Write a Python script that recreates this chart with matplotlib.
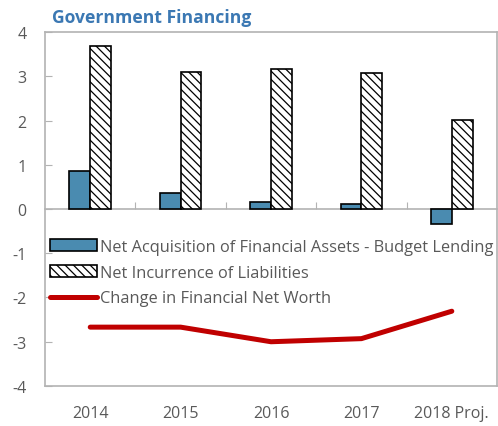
import numpy as np
import matplotlib
matplotlib.use('Agg')
import matplotlib.pyplot as plt

plt.rcParams['font.family'] = ['Open Sans', 'DejaVu Sans']
plt.rcParams['hatch.linewidth'] = 0.9
plt.rcParams['axes.unicode_minus'] = False

# Government financing, percent of GDP
years = ['2014', '2015', '2016', '2017', '2018 Proj.']
budget_lending = [0.85, 0.36, 0.16, 0.12, -0.34]
liabilities = [3.69, 3.10, 3.17, 3.07, 2.01]
net_worth = [-2.67, -2.67, -3.00, -2.93, -2.31]

blue = '#4a8bb0'
red = '#c00000'
gray = '#b3b3b3'
text_gray = '#595959'

fig = plt.figure(figsize=(4.98, 4.27), dpi=100)
ax = fig.add_axes([0.0904, 0.0937, 0.9076, 0.829])

x = np.arange(len(years))
w = 0.23
b1 = ax.bar(x - w / 2, budget_lending, width=w, color=blue, edgecolor='black', linewidth=1.2,
            label='Net Acquisition of Financial Assets - Budget Lending', zorder=2)
b2 = ax.bar(x + w / 2, liabilities, width=w, color='white', edgecolor='black', linewidth=1.2,
            hatch='\\\\\\\\', label='Net Incurrence of Liabilities', zorder=2)
l1, = ax.plot(x, net_worth, color=red, linewidth=3.6, solid_capstyle='round',
              label='Change in Financial Net Worth', zorder=3)

ax.set_xlim(-0.5, len(years) - 0.5)
ax.set_ylim(-4, 4)
ax.set_yticks(range(-4, 5))
ax.set_xticks(x)
ax.set_xticklabels(years)
ax.tick_params(axis='y', direction='in', length=5, color=gray, labelsize=11.5,
               labelcolor=text_gray, pad=13.5)
ax.tick_params(axis='x', length=0, labelsize=11.5, labelcolor=text_gray, pad=14)
for s in ax.spines.values():
    s.set_color(gray)
    s.set_linewidth(1.2)

# zero line with category separators
ax0 = ax.twiny()
ax0.set_xlim(ax.get_xlim())
ax0.spines['bottom'].set_position(('data', 0))
ax0.spines['bottom'].set_color(gray)
ax0.spines['bottom'].set_linewidth(1.2)
for side in ['top', 'left', 'right']:
    ax0.spines[side].set_visible(False)
ax0.xaxis.set_ticks_position('bottom')
ax0.set_xticks(np.arange(0.5, len(years) - 0.5, 1.0))
ax0.tick_params(axis='x', direction='in', length=5, color=gray, labelbottom=False, labeltop=False)
ax0.set_zorder(1)
ax.set_zorder(2)
ax.patch.set_visible(False)

leg = ax.legend(handles=[b1, b2, l1], loc='upper left', bbox_to_anchor=(0.0, 0.43),
                frameon=False, fontsize=11.8, handlelength=2.87, handleheight=0.7,
                handletextpad=0.2, labelspacing=0.6, borderaxespad=0.2, borderpad=0.1)
for t in leg.get_texts():
    t.set_color(text_gray)

fig.text(0.104, 0.945, 'Government Financing', color='#3b78b3', fontsize=12.6,
         fontweight='bold')

fig.savefig('out.png', dpi=100)
